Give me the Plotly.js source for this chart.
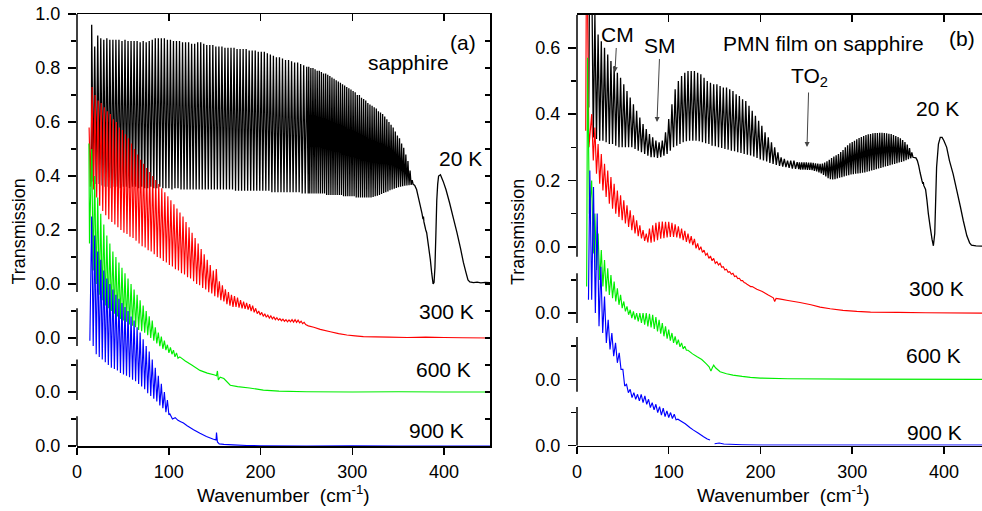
<!DOCTYPE html>
<html><head><meta charset="utf-8">
<script src="https://cdn.plot.ly/plotly-3.0.1.min.js"></script>
<style>html,body{margin:0;padding:0;background:#fff;}#chart{width:982px;height:511px;}</style>
</head><body><div id="chart"></div>
<script>
// ---------------- DATA (transmission, own scale of each curve) ----------------
const xTicks = [0, 100, 200, 300, 400];
const yTicksA = [0, 0.2, 0.4, 0.6, 0.8, 1.0];
const yMinorA = [0.1, 0.3, 0.5, 0.7, 0.9];
const yTicksB = [0, 0.2, 0.4, 0.6];
const yMinorB = [0.1, 0.3, 0.5];
const offTick = [0];
const offMinor = [0.1];

// Panel (a): sapphire, 20 K  (fringe maxima / minima)
const a20PreX = [15.6], a20PreY = [0.38];
const a20Start = 16, a20Step = 3.3;
const a20Hi = [0.96,0.88,0.92,0.91,0.905,0.91,0.905,0.905,0.905,0.905,
0.90,0.905,0.90,0.90,0.90,0.90,0.895,0.90,0.895,0.90,
0.905,0.91,0.91,0.91,0.91,0.905,0.905,0.90,0.90,0.90,
0.895,0.895,0.895,0.89,0.89,0.895,0.895,0.89,0.885,0.885,
0.885,0.88,0.88,0.88,0.875,0.875,0.875,0.875,0.87,0.87,
0.87,0.87,0.865,0.865,0.865,0.86,0.86,0.86,0.855,0.85,
0.845,0.84,0.84,0.835,0.83,0.83,0.825,0.82,0.82,0.815,
0.81,0.805];
const a20Lo = [0.38,0.37,0.37,0.365,0.36,0.36,0.355,0.36,0.36,0.355,
0.36,0.36,0.355,0.36,0.36,0.355,0.36,0.355,0.355,0.36,
0.355,0.355,0.36,0.355,0.355,0.355,0.35,0.355,0.355,0.35,
0.35,0.35,0.35,0.35,0.35,0.35,0.35,0.35,0.35,0.35,
0.35,0.35,0.35,0.35,0.35,0.35,0.35,0.345,0.345,0.345,
0.345,0.345,0.345,0.345,0.345,0.345,0.345,0.345,0.345,0.34,
0.34,0.34,0.34,0.34,0.34,0.34,0.34,0.34,0.34,0.335,
0.335,0.335];
const a20Start2 = 252.5, a20Step2 = 2.3;
const a20Hi2 = [0.805,0.80,0.80,0.795,0.79,0.79,0.785,0.78,0.78,0.775,
0.77,0.765,0.76,0.755,0.75,0.745,0.74,0.735,0.73,0.725,
0.72,0.715,0.71,0.70,0.70,0.69,0.685,0.68,0.67,0.665,
0.66,0.655,0.65,0.64,0.635,0.63,0.62,0.61,0.60,0.59,
0.58,0.565,0.55,0.54,0.52,0.505,0.48,0.455,0.42,0.385];
const a20Lo2 = [0.335,0.335,0.335,0.335,0.335,0.335,0.335,0.335,0.33,0.33,
0.33,0.33,0.33,0.33,0.33,0.33,0.325,0.325,0.325,0.325,
0.325,0.325,0.32,0.32,0.32,0.32,0.32,0.32,0.32,0.32,
0.322,0.325,0.327,0.33,0.333,0.337,0.34,0.343,0.347,0.35,
0.353,0.356,0.358,0.36,0.362,0.364,0.365,0.366,0.367,0.368];
const a20TailX = [366,368,370,372,374,376,377,377.5,378,380,381,383,385,386.5,388,389,390,391,392,393,394,396,399,402,406,410,414,418,421,424,426,428,432,436,440,445,450];
const a20TailY = [0.37,0.365,0.35,0.32,0.29,0.26,0.24,0.25,0.23,0.20,0.19,0.14,0.09,0.04,0.0,0.005,0.06,0.18,0.31,0.37,0.40,0.405,0.38,0.35,0.30,0.245,0.19,0.13,0.08,0.04,0.015,0.008,0.005,0.007,0.004,0.006,0.005];

// Panel (a): 300 K
const a300PreX = [13.2, 14.5], a300PreY = [0.78, 0.56];
const a300Start = 16.5, a300Step = 3.3;
const a300Hi = [0.93,0.90,0.88,0.87,0.855,0.84,0.83,0.81,0.80,0.78,
0.77,0.755,0.74,0.72,0.70,0.68,0.66,0.645,0.63,0.615,
0.60,0.585,0.57,0.555,0.54,0.525,0.51,0.495,0.48,0.465,
0.45,0.43,0.41,0.39,0.37,0.35,0.33,0.31,0.29,0.27,
0.25,0.255,0.21,0.195,0.18,0.17,0.16,0.155,0.15,0.14,
0.135,0.13,0.125,0.12,0.11,0.10,0.095,0.09,0.085,0.082,
0.078,0.075,0.072,0.07,0.068,0.067,0.068,0.068,0.066,0.062,
0.058];
const a300Lo = [0.55,0.52,0.49,0.47,0.455,0.44,0.43,0.42,0.41,0.40,
0.39,0.385,0.375,0.37,0.36,0.35,0.34,0.335,0.325,0.32,
0.31,0.30,0.295,0.285,0.28,0.27,0.265,0.255,0.25,0.24,
0.235,0.225,0.22,0.21,0.20,0.195,0.185,0.18,0.17,0.165,
0.155,0.15,0.14,0.135,0.125,0.12,0.115,0.115,0.112,0.11,
0.108,0.105,0.10,0.095,0.09,0.085,0.08,0.077,0.074,0.071,
0.068,0.066,0.064,0.062,0.06,0.06,0.059,0.058,0.056,0.053,
0.05];
const a300TailX = [252,258,265,276,285,294,303,312,325,340,360,380,400,420,450];
const a300TailY = [0.045,0.04,0.032,0.023,0.016,0.011,0.008,0.005,0.004,0.003,0.002,0.003,0.002,0.001,0.0];

// Panel (a): 600 K
const a600PreX = [13, 13.6], a600PreY = [0.92, 0.55];
const a600Start = 16, a600Step = 3.3;
const a600Hi = [0.90,0.80,0.72,0.66,0.62,0.58,0.55,0.52,0.50,0.48,
0.46,0.44,0.42,0.40,0.38,0.36,0.34,0.32,0.30,0.28,
0.265,0.24,0.22,0.205,0.19,0.175,0.165,0.155,0.145];
const a600Lo = [0.45,0.40,0.36,0.34,0.32,0.31,0.30,0.29,0.28,0.27,
0.265,0.26,0.25,0.245,0.24,0.23,0.225,0.22,0.21,0.20,
0.19,0.18,0.17,0.16,0.155,0.145,0.14,0.13,0.125];
const a600TailX = [112,118,125,134,142,150,152,153,154,156,160,167,175,188,203,220,250,300,350,400,450];
const a600TailY = [0.13,0.115,0.10,0.08,0.07,0.063,0.06,0.078,0.045,0.055,0.05,0.025,0.02,0.015,0.007,0.003,0.001,0.0,0.001,0.0,0.0];

// Panel (a): 900 K
const a900PreX = [14], a900PreY = [0.39];
const a900Start = 16, a900Step = 3.3;
const a900Hi = [0.85,0.78,0.72,0.69,0.65,0.62,0.60,0.58,0.56,0.545,
0.53,0.515,0.50,0.48,0.465,0.44,0.42,0.395,0.37,0.35,
0.32,0.29,0.26,0.23,0.20,0.17];
const a900Lo = [0.37,0.34,0.33,0.32,0.31,0.30,0.29,0.285,0.28,0.27,
0.265,0.26,0.255,0.245,0.24,0.23,0.22,0.21,0.195,0.185,
0.175,0.165,0.15,0.14,0.125,0.115];
const a900TailX = [101,104,107,110,113,116,120,127,134,141,148,151.5,152,153,155,160,170,185,200,250,300,350,400,450];
const a900TailY = [0.12,0.10,0.105,0.095,0.09,0.085,0.075,0.06,0.047,0.035,0.026,0.022,0.05,0.015,0.008,0.006,0.004,0.002,0.001,0.0,0.001,0.0,0.0,0.0];

// Panel (b): PMN film on sapphire, 20 K
const b20PreX = [12.8, 14], b20PreY = [0.42, 0.95];
const b20Start = 16, b20Step = 3.5;
const b20Hi = [0.85,0.70,0.64,0.62,0.60,0.58,0.56,0.545,0.525,0.51,
0.49,0.47,0.45,0.43,0.41,0.39,0.37,0.355,0.34,0.33,
0.32,0.315,0.32,0.345,0.385,0.43,0.475,0.50,0.515,0.525,
0.53,0.53,0.53,0.525,0.52,0.51,0.50,0.495,0.49,0.49,
0.485,0.48,0.48,0.475,0.47,0.46,0.455,0.445,0.44,0.425,
0.41,0.395,0.38,0.365,0.345,0.33,0.315,0.30,0.285,0.27,
0.265,0.26,0.26,0.26,0.255];
const b20Lo = [0.33,0.325,0.32,0.32,0.315,0.31,0.31,0.305,0.30,0.30,
0.30,0.30,0.30,0.295,0.29,0.285,0.28,0.275,0.27,0.27,
0.268,0.27,0.275,0.28,0.29,0.30,0.305,0.31,0.315,0.318,
0.32,0.32,0.32,0.318,0.315,0.312,0.31,0.305,0.303,0.30,
0.298,0.295,0.293,0.29,0.288,0.285,0.283,0.28,0.278,0.275,
0.272,0.268,0.263,0.26,0.257,0.253,0.25,0.247,0.244,0.242,
0.24,0.238,0.236,0.235,0.234];
const b20Start2 = 242.5, b20Step2 = 2.5;
const b20Hi2 = [0.255,0.255,0.255,0.255,0.254,0.254,0.253,0.252,0.251,0.25,
0.251,0.254,0.258,0.262,0.268,0.272,0.276,0.28,0.286,0.292,
0.30,0.306,0.312,0.316,0.32,0.324,0.328,0.331,0.334,0.337,
0.339,0.34,0.342,0.343,0.343,0.344,0.344,0.343,0.342,0.341,
0.34,0.337,0.334,0.331,0.327,0.322,0.316,0.308,0.298,0.285];
const b20Lo2 = [0.233,0.233,0.233,0.232,0.232,0.231,0.229,0.227,0.224,0.221,
0.217,0.212,0.207,0.204,0.203,0.204,0.206,0.208,0.21,0.212,
0.214,0.216,0.218,0.219,0.22,0.221,0.222,0.223,0.224,0.226,
0.228,0.23,0.232,0.234,0.236,0.238,0.24,0.242,0.244,0.246,
0.248,0.25,0.252,0.254,0.256,0.258,0.261,0.264,0.267,0.27];
const b20TailX = [369.5,371,372.5,374,376,377,377.5,378,380,381.5,383,385,387,388.5,390,391,392,394,396,398,400,403,406,410,414,418,421,425,428,430,435,441.5];
const b20TailY = [0.268,0.26,0.245,0.224,0.20,0.19,0.195,0.185,0.173,0.14,0.10,0.06,0.023,0.003,0.04,0.14,0.24,0.31,0.33,0.33,0.32,0.30,0.26,0.22,0.17,0.12,0.08,0.033,0.012,0.005,0.003,0.002];

// Panel (b): 300 K
const b300PreX = [9.5, 10.5, 13], b300PreY = [0.55, 1.2, 0.50];
const b300Start = 16, b300Step = 3.5;
const b300Hi = [0.60,0.56,0.51,0.48,0.45,0.43,0.41,0.39,0.37,0.355,
0.34,0.325,0.31,0.295,0.28,0.265,0.25,0.24,0.255,0.265,
0.272,0.275,0.276,0.275,0.275,0.272,0.268,0.262,0.255,0.248,
0.24,0.232,0.224,0.21,0.20,0.19,0.18,0.172,0.165,0.155,
0.15,0.14,0.132,0.125,0.12,0.112,0.105,0.098,0.09,0.083];
const b300Lo = [0.46,0.42,0.39,0.37,0.35,0.33,0.315,0.30,0.29,0.28,
0.27,0.26,0.25,0.24,0.232,0.225,0.218,0.213,0.212,0.215,
0.22,0.224,0.226,0.228,0.23,0.23,0.228,0.225,0.22,0.215,
0.21,0.205,0.195,0.19,0.183,0.175,0.165,0.158,0.15,0.145,
0.138,0.13,0.123,0.117,0.11,0.104,0.098,0.092,0.086,0.08];
const b300TailX = [191,196,202,208,214,215.5,217,222,230,243,255,265,276,290,305,320,350,380,441.5];
const b300TailY = [0.08,0.072,0.065,0.055,0.046,0.035,0.044,0.042,0.038,0.032,0.025,0.018,0.013,0.008,0.005,0.003,0.002,0.001,0.0];

// Panel (b): 600 K
const b600PreX = [10.5, 11.5, 13.5], b600PreY = [0.28, 0.97, 0.50];
const b600Start = 16, b600Step = 3.5;
const b600Hi = [0.60,0.50,0.44,0.39,0.36,0.335,0.315,0.295,0.275,0.255,
0.235,0.22,0.21,0.205,0.20,0.20,0.20,0.20,0.198,0.195,
0.188,0.18,0.17,0.16,0.15,0.14,0.13,0.12,0.11,0.10];
const b600Lo = [0.38,0.33,0.30,0.28,0.265,0.255,0.245,0.235,0.225,0.215,
0.205,0.195,0.185,0.18,0.175,0.17,0.165,0.16,0.157,0.152,
0.145,0.138,0.13,0.123,0.117,0.11,0.105,0.098,0.092,0.088];
const b600TailX = [121,126,131,136,141,144,146,147.5,149,151,156,163,170,180,189,200,230,300,441.5];
const b600TailY = [0.088,0.077,0.068,0.06,0.047,0.038,0.025,0.035,0.043,0.035,0.023,0.017,0.013,0.009,0.006,0.004,0.002,0.001,0.0];

// Panel (b): 900 K
const b900PreX = [12.5], b900PreY = [0.44];
const b900Start = 14, b900Step = 4.0;
const b900Hi = [0.83,0.78,0.70,0.54,0.45,0.38,0.34,0.31,0.28,0.23,
0.185,0.17,0.16,0.155,0.155,0.15,0.14,0.13,0.125,0.118,
0.113,0.105,0.10,0.095];
const b900Lo = [0.44,0.40,0.36,0.34,0.31,0.29,0.27,0.25,0.23,0.18,
0.16,0.145,0.14,0.135,0.13,0.125,0.115,0.108,0.10,0.092,
0.088,0.085,0.082,0.078];
const b900TailX = [110,114,118,123,127,132,138,142,145,148,150,155,160,180,200,441.5];
const b900TailY = [0.08,0.073,0.066,0.055,0.047,0.038,0.027,0.02,0.017,null,0.006,0.008,0.005,0.003,0.002,0.002];

// ---------------- BUILD ----------------
// interleave read maxima and minima on the fringe grid
function fringes(start, step, hi, lo) {
  const x = [], y = [];
  for (let i = 0; i < hi.length; i++) {
    x.push(start + i * step); y.push(hi[i]);
    x.push(start + (i + 0.5) * step); y.push(lo[i]);
  }
  return { x: x, y: y };
}
function join(parts) {
  return { x: [].concat(...parts.map(p => p.x)), y: [].concat(...parts.map(p => p.y)) };
}
function tr(s, color, width, xa, ya) {
  return { x: s.x, y: s.y, xaxis: xa, yaxis: ya, type: 'scatter', mode: 'lines',
    line: { color: color, width: width, simplify: false }, hoverinfo: 'skip', showlegend: false };
}
const BLACK = '#000000', RED = '#ff0000', GREEN = '#00ee00', BLUE = '#0000ff';
const data = [
  tr(join([{ x: a20PreX, y: a20PreY }, fringes(a20Start, a20Step, a20Hi, a20Lo),
    fringes(a20Start2, a20Step2, a20Hi2, a20Lo2), { x: a20TailX, y: a20TailY }]), BLACK, 1.3, 'x', 'y'),
  tr(join([{ x: a300PreX, y: a300PreY }, fringes(a300Start, a300Step, a300Hi, a300Lo), { x: a300TailX, y: a300TailY }]), RED, 1.15, 'x', 'y2'),
  tr(join([{ x: a600PreX, y: a600PreY }, fringes(a600Start, a600Step, a600Hi, a600Lo), { x: a600TailX, y: a600TailY }]), GREEN, 1.15, 'x', 'y3'),
  tr(join([{ x: a900PreX, y: a900PreY }, fringes(a900Start, a900Step, a900Hi, a900Lo), { x: a900TailX, y: a900TailY }]), BLUE, 1.15, 'x', 'y4'),
  tr(join([{ x: b20PreX, y: b20PreY }, fringes(b20Start, b20Step, b20Hi, b20Lo),
    fringes(b20Start2, b20Step2, b20Hi2, b20Lo2), { x: b20TailX, y: b20TailY }]), BLACK, 1.3, 'x3', 'y6'),
  tr(join([{ x: b300PreX, y: b300PreY }, fringes(b300Start, b300Step, b300Hi, b300Lo), { x: b300TailX, y: b300TailY }]), RED, 1.15, 'x3', 'y7'),
  tr(join([{ x: b600PreX, y: b600PreY }, fringes(b600Start, b600Step, b600Hi, b600Lo), { x: b600TailX, y: b600TailY }]), GREEN, 1.15, 'x3', 'y8'),
  tr(join([{ x: b900PreX, y: b900PreY }, fringes(b900Start, b900Step, b900Hi, b900Lo), { x: b900TailX, y: b900TailY }]), BLUE, 1.15, 'x3', 'y9'),
  { x: [null], y: [null], xaxis: 'x2', yaxis: 'y5', mode: 'lines', showlegend: false, hoverinfo: 'skip' },
  { x: [null], y: [null], xaxis: 'x4', yaxis: 'y6', mode: 'lines', showlegend: false, hoverinfo: 'skip' }
];

const W = 982, H = 511;
const FONT = 'Liberation Sans, Arial, Helvetica, sans-serif';
const tickfont = { family: FONT, size: 18, color: '#000' };
const px = v => v / W, py = v => 1 - v / H;
const domA = [px(77), px(490)], domB = [px(577), 1];
const ydomA = [py(446), py(14)], ydomB = [py(445.7), py(14.7)];

function xBottom(dom, range, anchor) {
  return { domain: dom, range: range, anchor: anchor, tickmode: 'array', tickvals: xTicks,
    ticks: 'outside', ticklen: 7, tickwidth: 1.5, tickcolor: '#000', showline: true, linewidth: 1.5,
    linecolor: '#000', showgrid: false, zeroline: false, tickfont: tickfont, ticklabelstandoff: 2 };
}
function xTop(over, range, anchor) {
  return { overlaying: over, side: 'top', anchor: anchor, range: range, tickmode: 'array',
    tickvals: [100, 200, 300, 400], ticks: 'inside', ticklen: 7, tickwidth: 1.5, tickcolor: '#000',
    showline: true, linewidth: 1.5, linecolor: '#000', showticklabels: false, showgrid: false, zeroline: false };
}
function yLeft(extra, range, tv, mv) {
  return Object.assign({ range: range, side: 'left', tickmode: 'array', tickvals: tv, tickformat: '.1f',
    ticks: 'outside', ticklen: 8, tickwidth: 1.5, tickcolor: '#000',
    minor: { tickmode: 'array', tickvals: mv, ticks: 'outside', ticklen: 5, tickwidth: 1.5, tickcolor: '#000' },
    showline: false, showgrid: false, zeroline: false, tickfont: tickfont, ticklabelstandoff: 4 }, extra);
}
function seg(xref, yref, y0, y1) {
  return { type: 'line', xref: xref, x0: 0, x1: 0, yref: yref, y0: y0, y1: y1,
    line: { color: '#000', width: 1.5 }, layer: 'above' };
}
function ann(text, x, y, size, extra) {
  return Object.assign({ text: text, x: px(x), y: py(y), xref: 'paper', yref: 'paper', showarrow: false,
    xanchor: 'center', yanchor: 'middle', font: { family: FONT, size: size, color: '#000' } }, extra || {});
}
// label with a pointing arrow: (tipX, tipY) is the arrow tip, (tx, ty) the label centre
function pointer(text, tx, ty, tipX, tipY) {
  return { text: text, x: px(tipX), y: py(tipY), xref: 'paper', yref: 'paper', showarrow: true,
    ax: tx - tipX, ay: ty - tipY, arrowhead: 2, arrowsize: 1, arrowwidth: 1, arrowcolor: '#444',
    standoff: 0, startstandoff: 1, font: { family: FONT, size: 21, color: '#000' } };
}

const layout = {
  width: W, height: H, margin: { l: 0, r: 0, t: 0, b: 0 },
  paper_bgcolor: '#fff', plot_bgcolor: 'rgba(0,0,0,0)', showlegend: false,
  font: { family: FONT, color: '#000' },
  xaxis: xBottom(domA, [0, 450], 'y'),
  xaxis2: xTop('x', [0, 450], 'y'),
  xaxis3: xBottom(domB, [0, 441.5], 'y6'),
  xaxis4: xTop('x3', [0, 441.5], 'y6'),
  yaxis: yLeft({ domain: ydomA, anchor: 'x' }, [-0.6, 1.0], yTicksA, yMinorA),
  yaxis2: yLeft({ overlaying: 'y', anchor: 'x' }, [-0.4, 1.2], offTick, offMinor),
  yaxis3: yLeft({ overlaying: 'y', anchor: 'x' }, [-0.2, 1.4], offTick, offMinor),
  yaxis4: yLeft({ overlaying: 'y', anchor: 'x' }, [0.0, 1.6], offTick, offMinor),
  yaxis5: { overlaying: 'y', anchor: 'x', side: 'right', range: [-0.6, 1.0], tickmode: 'linear', tick0: 0, dtick: 0.1,
    ticks: 'inside', ticklen: 5, tickwidth: 1.5, tickcolor: '#000', showline: true, linewidth: 1.5, linecolor: '#000',
    showticklabels: false, showgrid: false, zeroline: false },
  yaxis6: yLeft({ domain: ydomB, anchor: 'x3' }, [-0.6, 0.7], yTicksB, yMinorB),
  yaxis7: yLeft({ overlaying: 'y6', anchor: 'x3' }, [-0.4, 0.9], offTick, offMinor),
  yaxis8: yLeft({ overlaying: 'y6', anchor: 'x3' }, [-0.2, 1.1], offTick, offMinor),
  yaxis9: yLeft({ overlaying: 'y6', anchor: 'x3' }, [0.0, 1.3], offTick, offMinor),
  shapes: [
    seg('x domain', 'y', -0.03, 1.0), seg('x domain', 'y2', -0.03, 0.11),
    seg('x domain', 'y3', -0.03, 0.12), seg('x domain', 'y4', 0, 0.11),
    seg('x3 domain', 'y6', -0.03, 0.7), seg('x3 domain', 'y7', -0.03, 0.12),
    seg('x3 domain', 'y8', -0.037, 0.128), seg('x3 domain', 'y9', 0, 0.117)
  ],
  annotations: [
    ann('(a)', 463, 42, 21), ann('sapphire', 408, 62, 21), ann('20 K', 460, 158, 21),
    ann('300 K', 446, 311, 21), ann('600 K', 443, 369, 21), ann('900 K', 436, 430, 21),
    ann('(b)', 962, 38, 21), ann('PMN film on sapphire', 823, 43, 21),
    pointer('CM', 617, 34, 615, 72), pointer('SM', 660, 45, 657, 122), pointer('TO<sub>2</sub>', 809, 77, 807, 147),
    ann('20 K', 937, 108, 21), ann('300 K', 936, 288, 21), ann('600 K', 933, 355, 21), ann('900 K', 934, 432, 21),
    ann('Transmission', 18.5, 232, 18, { textangle: -90 }), ann('Transmission', 518, 232, 18, { textangle: -90 }),
    ann('Wavenumber\u00a0 (cm<sup>-1</sup>)', 283.5, 494, 19), ann('Wavenumber\u00a0 (cm<sup>-1</sup>)', 783, 494, 19)
  ]
};

Plotly.newPlot('chart', data, layout, { staticPlot: true, displayModeBar: false });
</script>
</body></html>
